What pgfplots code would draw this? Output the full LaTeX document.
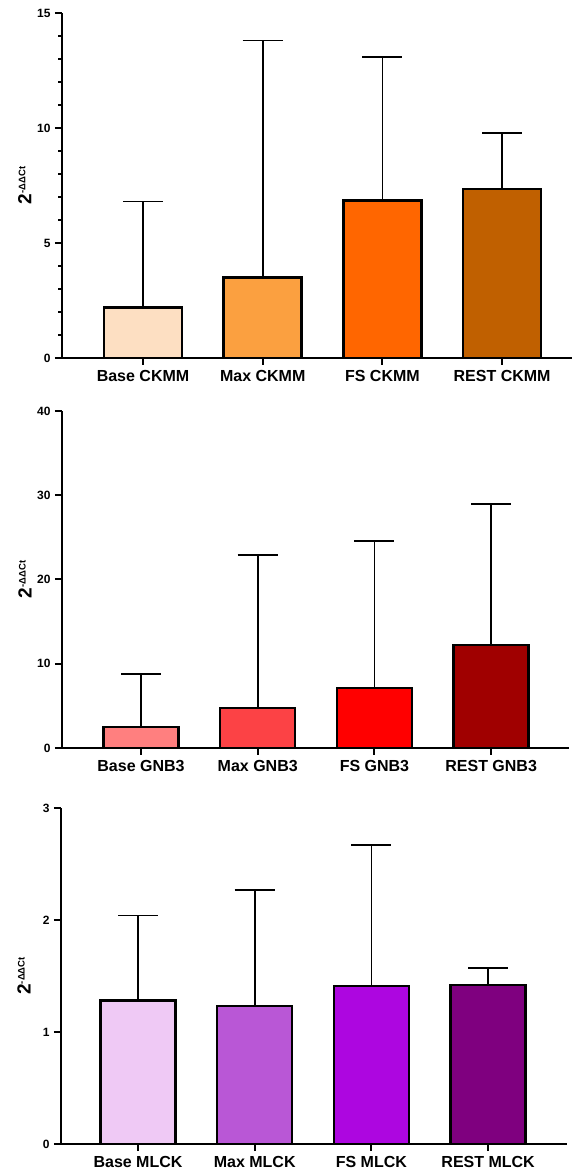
\documentclass[border=0pt]{standalone}
\usepackage{fontspec}
\setmainfont{Liberation Sans}
\usepackage{pgfplots}
\pgfplotsset{compat=1.18}
\definecolor{c11}{HTML}{FDDFC2}
\definecolor{c12}{HTML}{FBA040}
\definecolor{c13}{HTML}{FF6600}
\definecolor{c14}{HTML}{C06000}
\definecolor{c21}{HTML}{FF7F7F}
\definecolor{c22}{HTML}{FC4245}
\definecolor{c23}{HTML}{FF0000}
\definecolor{c24}{HTML}{A00000}
\definecolor{c31}{HTML}{EFC9F5}
\definecolor{c32}{HTML}{B957D6}
\definecolor{c33}{HTML}{AD06E0}
\definecolor{c34}{HTML}{7F007F}
\pgfplotsset{
  panel/.style={
    scale only axis,
    anchor=south west,
    axis x line*=bottom,
    axis y line*=left,
    axis line style={-, line width=2.5pt, black},
    tick style={draw=black, line width=2pt},
    tick align=outside,
    major tick length=7pt,
    minor tick length=4pt,
    ymin=0,
    xtick={0,1,2,3},
    /pgf/number format/assume math mode=true,
    yticklabel style={font=\fontsize{12}{12}\selectfont\bfseries, xshift=-1pt},
    xticklabel style={font=\fontsize{16}{16}\selectfont\bfseries, yshift=-2pt},
    ylabel={\fontsize{19}{19}\selectfont\bfseries 2\raisebox{0.6ex}{\fontsize{9.5}{9.5}\selectfont -ΔΔCt}},
    every axis y label/.style={at={(axis description cs:-0.073,0.5)}, rotate=90, anchor=center},
    every axis plot/.append style={ybar, draw=black, line width=2.5pt, bar shift=0pt,
      error bars/y dir=plus, error bars/y explicit,
      error bars/error bar style={line width=1.8pt, black},
      error bars/error mark options={rotate=90, mark size=20pt, line width=1.8pt, black}},
  }
}
\begin{document}
\begin{tikzpicture}
\useasboundingbox (0,0) rectangle (573pt,1174pt);
% Panel 1: CKMM
\begin{axis}[panel, at={(62pt,816pt)}, width=510pt, height=345pt,
  xmin=-0.677, xmax=3.584, ymax=15, ytick={0,5,10,15}, minor y tick num=4,
  bar width=78pt,
  xticklabels={Base CKMM, Max CKMM, FS CKMM, REST CKMM}]
\addplot[fill=c11] coordinates {(0,2.2) +- (0,4.6)};
\addplot[fill=c12] coordinates {(1,3.5) +- (0,10.3)};
\addplot[fill=c13] coordinates {(2,6.85) +- (0,6.25)};
\addplot[fill=c14] coordinates {(3,7.35) +- (0,2.43)};
\end{axis}
% Panel 2: GNB3
\begin{axis}[panel, at={(62pt,426pt)}, width=507pt, height=337pt,
  xmin=-0.677, xmax=3.667, ymax=40, ytick={0,10,20,30,40},
  bar width=75pt,
  xticklabels={Base GNB3, Max GNB3, FS GNB3, REST GNB3}]
\addplot[fill=c21] coordinates {(0,2.5) +- (0,6.3)};
\addplot[fill=c22] coordinates {(1,4.75) +- (0,18.15)};
\addplot[fill=c23] coordinates {(2,7.1) +- (0,17.5)};
\addplot[fill=c24] coordinates {(3,12.2) +- (0,16.8)};
\end{axis}
% Panel 3: MLCK
\begin{axis}[panel, at={(61pt,30pt)}, width=506pt, height=336pt,
  xmin=-0.66, xmax=3.676, ymax=3, ytick={0,1,2,3},
  bar width=75pt,
  xticklabels={Base MLCK, Max MLCK, FS MLCK, REST MLCK}]
\addplot[fill=c31] coordinates {(0,1.28) +- (0,0.76)};
\addplot[fill=c32] coordinates {(1,1.23) +- (0,1.04)};
\addplot[fill=c33] coordinates {(2,1.41) +- (0,1.26)};
\addplot[fill=c34] coordinates {(3,1.42) +- (0,0.15)};
\end{axis}
\end{tikzpicture}
\end{document}
